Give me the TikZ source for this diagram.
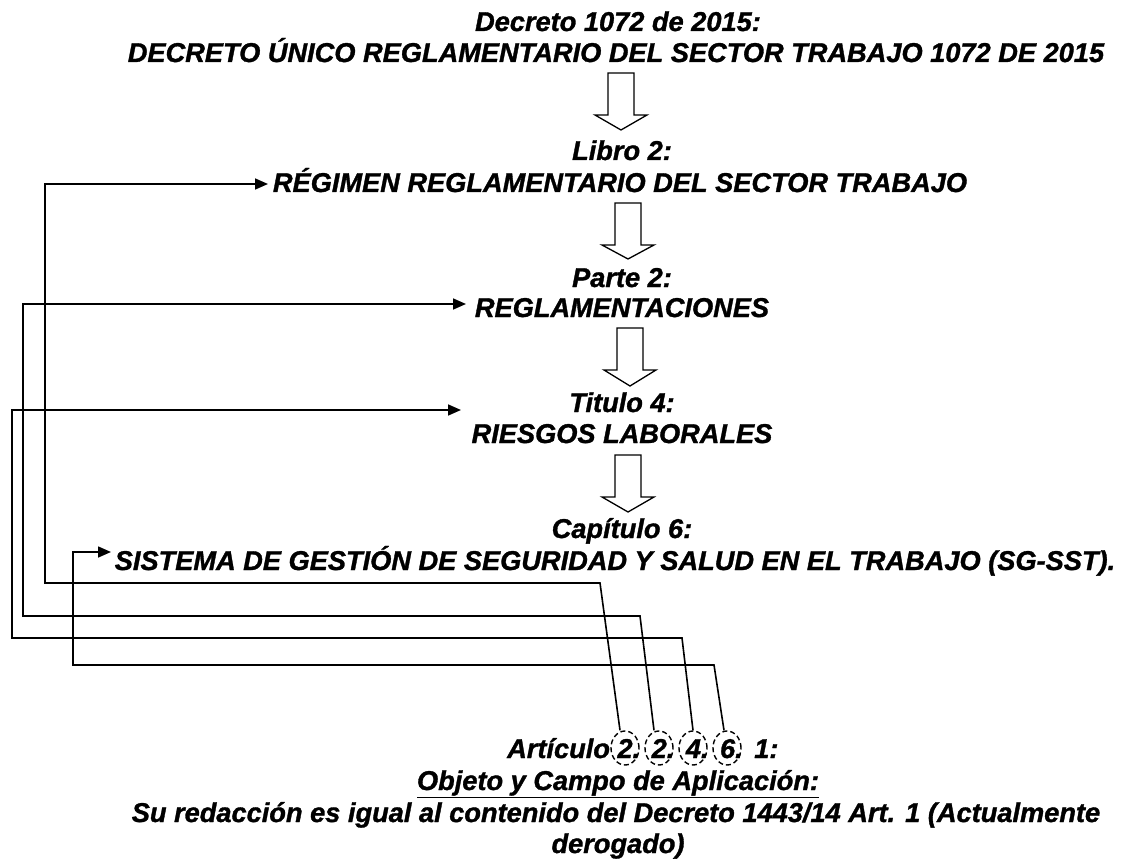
\documentclass[tikz,border=0pt]{standalone}
\usepackage{fontspec}
\setmainfont{Liberation Sans}[BoldItalicFeatures={FakeBold=1.2}]
\usetikzlibrary{arrows.meta,shapes.geometric}
\newcommand{\hollowdown}[4]{%
  \draw[blk] ({#1-13},#2) -- ({#1+13},#2) -- ({#1+13},#3) -- ({#1+26},#3) -- (#1,#4) -- ({#1-26},#3) -- ({#1-13},#3) -- cycle;}
\begin{document}
\begin{tikzpicture}[x=1pt,y=-1pt,
  txt/.style={font=\fontsize{27.2}{31}\selectfont\bfseries\itshape, inner sep=0pt, anchor=base},
  blk/.style={draw=black, line width=1.3pt, fill=white, line join=miter},
  conn/.style={draw=black, line width=1.6pt},
  arr/.style={conn, -{Triangle[length=13pt,width=11pt]}},
  circ/.style={draw, dash pattern=on 5pt off 3pt, line width=1.4pt, ellipse, minimum width=28pt, minimum height=34pt, inner sep=0pt}]
\useasboundingbox (0,0) rectangle (1134,861);
\fill[white] (0,0) rectangle (1134,861);
% text lines
\node[txt] (t1) at (618,31) {Decreto 1072 de 2015:};
\node[txt] (t2) at (616,62) {DECRETO ÚNICO REGLAMENTARIO DEL SECTOR TRABAJO 1072 DE 2015};
\node[txt] (l1) at (622,160) {Libro 2:};
\node[txt] (l2) at (620,192) {RÉGIMEN REGLAMENTARIO DEL SECTOR TRABAJO};
\node[txt] (p1) at (622,287) {Parte 2:};
\node[txt] (p2) at (622,317) {REGLAMENTACIONES};
\node[txt] (ti1) at (622,412) {Titulo 4:};
\node[txt] (ti2) at (622,443) {RIESGOS LABORALES};
\node[txt] (c1) at (622,538) {Capítulo 6:};
\node[txt] (c2) at (615,570) {SISTEMA DE GESTIÓN DE SEGURIDAD Y SALUD EN EL TRABAJO (SG-SST).};
\node[txt, anchor=base west] (a1) at (507,758) {Artículo 2.\hspace{11.5pt}2.\hspace{11.5pt}4.\hspace{11.5pt}6.\hspace{11.5pt}1:};
\node[txt] (a2) at (618,790) {\underline{Objeto y Campo de Aplicación:}};
\node[txt] (a3) at (616,822) {Su redacción es igual al contenido del Decreto 1443/14 Art. 1 (Actualmente};
\node[txt] (a4) at (618,853) {derogado)};
% hollow arrows
\hollowdown{621}{73}{115}{130}
\hollowdown{628}{203}{245}{259}
\hollowdown{630}{328}{370}{386}
\hollowdown{628}{455}{497}{512}
% dashed circles
\node[circ] (e1) at (625,748) {};
\node[circ] (e2) at (659,748) {};
\node[circ] (e3) at (693,748) {};
\node[circ] (e4) at (727,748) {};
% arrow tips
\coordinate (tA) at (268,184);
\coordinate (tB) at (466,304);
\coordinate (tC) at (461,410);
\coordinate (tD) at (111,552);
% connectors
\draw[arr] ([xshift=-5pt]e1.north) -- (600,583) -- (45,583) -- (45,184) -- (tA);
\draw[arr] ([xshift=-5pt]e2.north) -- (640,616) -- (23,616) -- (23,304) -- (tB);
\draw[arr] ([xshift=0pt]e3.north) -- (682,638) -- (12,638) -- (12,410) -- (tC);
\draw[arr] ([xshift=-3pt]e4.north) -- (714,665) -- (73,665) -- (73,552) -- (tD);
\end{tikzpicture}
\end{document}
